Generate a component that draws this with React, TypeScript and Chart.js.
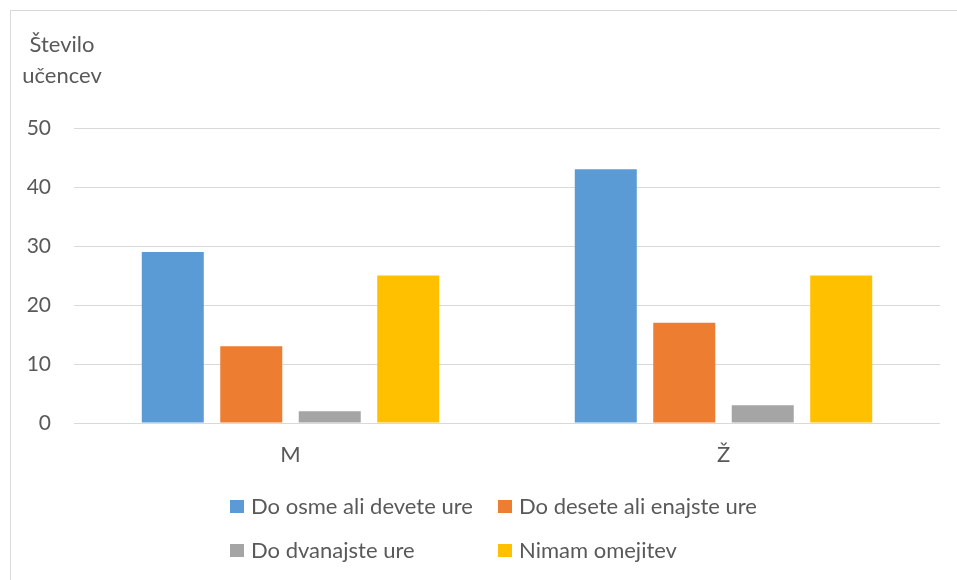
import React, { useEffect, useRef } from "react";
import { Chart, registerables } from "chart.js";

Chart.register(...registerables);

const categories = ["M", "Ž"];
const seriesNames = [
  "Do osme ali devete ure",
  "Do desete ali enajste ure",
  "Do dvanajste ure",
  "Nimam omejitev",
];
const seriesColors = ["#5B9BD5", "#ED7D31", "#A5A5A5", "#FFC000"];
const seriesEarly = [29, 43];
const seriesMid = [13, 17];
const seriesLate = [2, 3];
const seriesNone = [25, 25];
const yTitleLines = ["Število", "učencev"];
const yMin = 0;
const yMax = 50;
const yStep = 10;

const FONT = "Lato, 'Open Sans', sans-serif";
const TEXT = "#595959";

const framePlugin = {
  id: "frame",
  beforeDraw(chart: any) {
    const ctx = chart.ctx;
    ctx.save();
    ctx.fillStyle = "#ffffff";
    ctx.fillRect(0, 0, chart.width, chart.height);
    ctx.strokeStyle = "#d9d9d9";
    ctx.lineWidth = 1;
    ctx.beginPath();
    ctx.moveTo(10.5, chart.height);
    ctx.lineTo(10.5, 10.5);
    ctx.lineTo(chart.width, 10.5);
    ctx.stroke();
    ctx.restore();
  },
  afterDraw(chart: any) {
    const ctx = chart.ctx;
    ctx.save();
    ctx.fillStyle = TEXT;
    ctx.font = `22px ${FONT}`;
    ctx.textAlign = "center";
    ctx.textBaseline = "alphabetic";
    ctx.fillText(yTitleLines[0], 62, 52);
    ctx.fillText(yTitleLines[1], 62, 83);

    // custom two-column legend
    const cols = [230, 498];
    const rows = [507, 551];
    ctx.textAlign = "left";
    ctx.textBaseline = "middle";
    chart.data.datasets.forEach((ds: any, i: number) => {
      const x = cols[i % 2];
      const y = rows[Math.floor(i / 2)];
      ctx.fillStyle = ds.backgroundColor;
      ctx.fillRect(x, y - 7, 14, 13);
      ctx.fillStyle = TEXT;
      ctx.fillText(ds.label, x + 21, y);
    });
    ctx.restore();
  },
};

export default function App() {
  const ref = useRef<HTMLCanvasElement>(null);
  useEffect(() => {
    if (!ref.current) return;
    const values = [seriesEarly, seriesMid, seriesLate, seriesNone];
    const chart = new Chart(ref.current, {
      type: "bar",
      data: {
        labels: categories,
        datasets: values.map((v, i) => ({
          label: seriesNames[i],
          data: v,
          backgroundColor: seriesColors[i],
          borderWidth: 0,
          barPercentage: 0.79,
          categoryPercentage: 0.725,
        })),
      },
      options: {
        animation: false,
        responsive: false,
        maintainAspectRatio: false,
        layout: { padding: { left: 10, right: 17, top: 128, bottom: 112 } },
        plugins: {
          legend: { display: false },
          tooltip: { enabled: false },
          title: { display: false },
        },
        scales: {
          x: {
            grid: { display: false, drawTicks: false },
            border: { display: false },
            ticks: {
              color: TEXT,
              font: { family: FONT, size: 22 },
              padding: 19,
            },
            afterFit: (s: any) => {
              s.height = 45;
            },
          },
          y: {
            min: yMin,
            max: yMax,
            grid: { color: "#d9d9d9", lineWidth: 1, drawTicks: false },
            border: { display: false },
            ticks: {
              stepSize: yStep,
              color: TEXT,
              font: { family: FONT, size: 21 },
              padding: 23,
            },
            afterFit: (s: any) => {
              s.width = 64;
            },
          },
        },
      },
      plugins: [framePlugin],
    });
    return () => chart.destroy();
  }, []);
  return (
    <div style={{ position: "absolute", left: 0, top: 0, width: 957, height: 580 }}>
      <canvas ref={ref} width={957} height={580} style={{ display: "block" }} />
    </div>
  );
}
